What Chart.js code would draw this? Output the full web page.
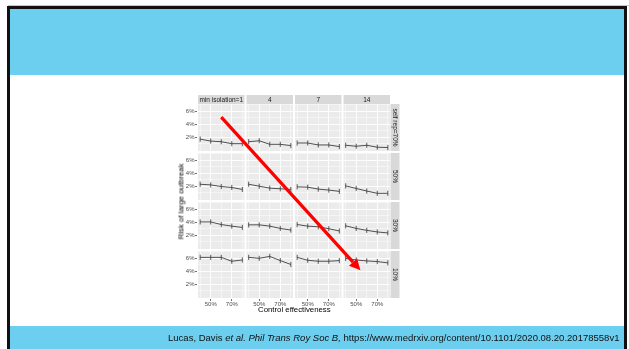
<!DOCTYPE html>
<html>
<head>
<meta charset="utf-8">
<script src="https://cdn.jsdelivr.net/npm/chart.js@4.4.1/dist/chart.umd.min.js"></script>
<style>
    html, body { margin: 0; padding: 0; background: #fff; width: 629px; height: 349px; overflow: hidden; font-family: "Liberation Sans", Arial, sans-serif; }
    #topline { position: absolute; left: 8px; top: 5px; width: 621px; height: 1px; background: #c8c8c8; }
    #frame { position: absolute; left: 7px; top: 6px; width: 614px; height: 360px; border: 3px solid #111; border-bottom: none; background: #fff; }
    #bannerTop { position: absolute; left: 0; top: 0; width: 100%; height: 66px; background: #6ccff0; }
    #bannerBottom { position: absolute; left: 0; top: 317px; width: 100%; height: 40px; background: #6ccff0; }
    #cite { position: absolute; left: 168px; top: 332px; font-size: 9.5px; color: #111; white-space: nowrap; transform-origin: 0 0; z-index: 3; }
    #chart { position: absolute; left: 0; top: 0; z-index: 2; }
    .axisTitle { position: absolute; font-size: 7.8px; line-height: 9px; color: #000; white-space: nowrap; z-index: 3; }
</style>
</head>
<body>
<div id="topline"></div>
<div id="frame">
    <div id="bannerTop"></div>
    <div id="bannerBottom"></div>
</div>
<canvas id="chart" width="629" height="349"></canvas>
<div class="axisTitle" id="yTitle">Risk of large outbreak</div>
<div class="axisTitle" id="xTitle">Control effectiveness</div>
<div id="cite">Lucas, Davis <i>et al. Phil Trans Roy Soc B,</i> https://www.medrxiv.org/content/10.1101/2020.08.20.20178558v1</div>

<script>
// facettes
const minIsolation = ['min isolation=1', '4', '7', '14'];
const selfRep = ['self rep=70%', '50%', '30%', '10%'];
const controlEffectiveness = [40, 50, 60, 70, 80];

// risque (%) par colonne min isolation, une ligne par self rep
const riskSelfRep70 = [[1.7, 1.4, 1.3, 1.0, 1.0], [1.3, 1.45, 0.9, 0.9, 0.7], [1.1, 1.1, 0.8, 0.8, 0.55], [0.75, 0.6, 0.75, 0.45, 0.4]];
const riskSelfRep50 = [[2.3, 2.2, 1.95, 1.8, 1.5], [2.3, 2.0, 1.7, 1.6, 1.5], [1.9, 1.85, 1.55, 1.4, 1.2], [2.05, 1.65, 1.25, 0.9, 0.9]];
const riskSelfRep30 = [[4.05, 4.05, 3.65, 3.4, 3.2], [3.6, 3.6, 3.4, 3.05, 2.8], [3.65, 3.4, 3.3, 3.0, 2.65], [3.45, 3.05, 2.75, 2.5, 2.35]];
const riskSelfRep10 = [[6.15, 6.15, 6.15, 5.55, 5.75], [6.15, 6.0, 6.3, 5.65, 5.05], [6.15, 5.7, 5.55, 5.55, 5.65], [6.0, 5.75, 5.6, 5.5, 5.3]];

const xTicks = [40, 50, 60, 70, 80];
const xLabelTicks = [50, 70];
const yTicks = [1, 2, 3, 4, 5, 6, 7];
const yLabelTicks = [2, 4, 6];

// fleche rouge (valeurs dans le premier et le dernier panneau)
const arrowFrom = { x: 60, y: 5.1 };
const arrowTo = { x: 54, y: 4.15 };

const GAP = 2;
const STRIP = 9;
const riskBySelfRep = [riskSelfRep70, riskSelfRep50, riskSelfRep30, riskSelfRep10];

const isMajor = (ctx, list) => ctx.tick && list.includes(ctx.tick.value);

const scales = {};
minIsolation.forEach((name, c) => {
    scales['x' + c] = {
        type: 'linear', position: 'bottom', stack: 'cols', stackWeight: 1, weight: c,
        min: 37, max: 83,
        afterBuildTicks: s => { s.ticks = xTicks.map(v => ({ value: v })); },
        afterFit: s => { s.height = 10; },
        border: { display: false },
        grid: {
            color: '#ffffff',
            lineWidth: ctx => isMajor(ctx, xLabelTicks) ? 0.9 : 0.45,
            tickLength: 2,
            tickWidth: 0.7,
            tickColor: ctx => isMajor(ctx, xLabelTicks) ? '#333333' : 'rgba(0,0,0,0)'
        },
        ticks: {
            autoSkip: false, maxRotation: 0, padding: 0,
            color: '#4d4d4d', font: { family: 'Liberation Sans', size: 6 },
            callback: v => xLabelTicks.includes(v) ? v + '%' : ''
        }
    };
});
selfRep.forEach((name, r) => {
    scales['y' + r] = {
        type: 'linear', position: 'left', stack: 'rows', stackWeight: 1, weight: 4 - r,
        min: -0.29, max: 7.29,
        afterBuildTicks: s => { s.ticks = yTicks.map(v => ({ value: v })); },
        afterFit: s => { s.width = 47; },
        border: { display: false },
        grid: {
            color: '#ffffff',
            lineWidth: ctx => isMajor(ctx, yLabelTicks) ? 0.9 : 0.45,
            tickLength: 2,
            tickWidth: 0.7,
            tickColor: ctx => isMajor(ctx, yLabelTicks) ? '#333333' : 'rgba(0,0,0,0)'
        },
        ticks: {
            autoSkip: false, padding: 0.5,
            color: '#4d4d4d', font: { family: 'Liberation Sans', size: 6 },
            callback: v => yLabelTicks.includes(v) ? v + '%' : ''
        }
    };
});

const datasets = [];
riskBySelfRep.forEach((rowSeries, r) => {
    rowSeries.forEach((vals, c) => {
        datasets.push({
            label: selfRep[r] + ' / ' + minIsolation[c],
            data: controlEffectiveness.map((x, i) => ({ x: x, y: vals[i] })),
            xAxisID: 'x' + c,
            yAxisID: 'y' + r,
            borderColor: '#333333',
            borderWidth: 0.85,
            pointStyle: 'line',
            pointRotation: 90,
            pointRadius: 2.6,
            pointBorderColor: '#333333',
            pointBorderWidth: 0.8,
            tension: 0,
            fill: false
        });
    });
});

const facetPlugin = {
    id: 'facets',
    beforeDraw(chart) {
        const ctx = chart.ctx;
        ctx.save();
        ctx.fillStyle = '#ebebeb';
        selfRep.forEach((_, r) => {
            const ys = chart.scales['y' + r];
            minIsolation.forEach((_, c) => {
                const xs = chart.scales['x' + c];
                ctx.fillRect(xs.left + GAP / 2, ys.top + GAP / 2, xs.width - GAP, ys.height - GAP);
            });
        });
        ctx.restore();
    },
    afterDraw(chart) {
        const ctx = chart.ctx;
        ctx.save();
        ctx.font = '6.5px "Liberation Sans"';
        ctx.textAlign = 'center';
        ctx.textBaseline = 'middle';
        const top = chart.scales.y0.top + GAP / 2;
        minIsolation.forEach((name, c) => {
            const xs = chart.scales['x' + c];
            ctx.fillStyle = '#d9d9d9';
            ctx.fillRect(xs.left + GAP / 2, top - STRIP, xs.width - GAP, STRIP);
            ctx.fillStyle = '#1a1a1a';
            ctx.fillText(name, (xs.left + xs.right) / 2, top - STRIP / 2 + 0.5);
        });
        const right = chart.scales.x3.right - GAP / 2;
        selfRep.forEach((name, r) => {
            const ys = chart.scales['y' + r];
            ctx.fillStyle = '#d9d9d9';
            ctx.fillRect(right + 0.5, ys.top + GAP / 2, STRIP, ys.height - GAP);
            ctx.save();
            ctx.translate(right + 0.5 + STRIP / 2, (ys.top + ys.bottom) / 2);
            ctx.rotate(Math.PI / 2);
            ctx.fillStyle = '#1a1a1a';
            ctx.fillText(name, 0, 0.5);
            ctx.restore();
        });

        // fleche
        const x1 = chart.scales.x0.getPixelForValue(arrowFrom.x);
        const y1 = chart.scales.y0.getPixelForValue(arrowFrom.y);
        const x2 = chart.scales.x3.getPixelForValue(arrowTo.x);
        const y2 = chart.scales.y3.getPixelForValue(arrowTo.y);
        const ang = Math.atan2(y2 - y1, x2 - x1);
        const headLen = 11, headHalf = 5.5;
        const bx = x2 - headLen * Math.cos(ang), by = y2 - headLen * Math.sin(ang);
        ctx.strokeStyle = '#ff0000';
        ctx.fillStyle = '#ff0000';
        ctx.lineWidth = 3.2;
        ctx.beginPath();
        ctx.moveTo(x1, y1);
        ctx.lineTo(bx, by);
        ctx.stroke();
        ctx.beginPath();
        ctx.moveTo(x2, y2);
        ctx.lineTo(bx + headHalf * Math.sin(ang), by - headHalf * Math.cos(ang));
        ctx.lineTo(bx - headHalf * Math.sin(ang), by + headHalf * Math.cos(ang));
        ctx.closePath();
        ctx.fill();
        ctx.restore();
    }
};

new Chart(document.getElementById('chart'), {
    type: 'line',
    data: { datasets: datasets },
    options: {
        responsive: false,
        animation: false,
        layout: { padding: { left: 150, top: 103, right: 238, bottom: 40 } },
        plugins: { legend: { display: false }, tooltip: { enabled: false } },
        scales: scales
    },
    plugins: [facetPlugin]
});

// titres des axes
const yTitle = document.getElementById('yTitle');
yTitle.style.left = (181 - yTitle.offsetWidth / 2) + 'px';
yTitle.style.top = (201 - yTitle.offsetHeight / 2) + 'px';
yTitle.style.transform = 'rotate(-90deg)';
const xTitle = document.getElementById('xTitle');
xTitle.style.left = (294.5 - xTitle.offsetWidth / 2) + 'px';
xTitle.style.top = (309 - xTitle.offsetHeight / 2) + 'px';

// citation ajustee a la largeur
const cite = document.getElementById('cite');
cite.style.transform = 'scaleX(' + (451 / cite.offsetWidth) + ')';
</script>
</body>
</html>
